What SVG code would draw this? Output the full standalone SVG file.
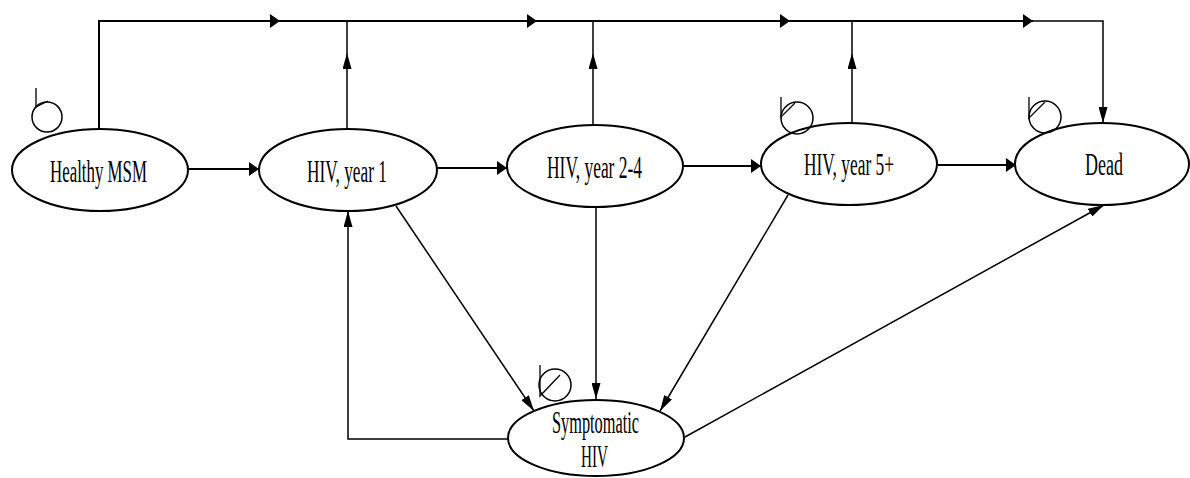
<svg xmlns="http://www.w3.org/2000/svg" width="1190" height="478" viewBox="0 0 1190 478">
<style>
.node ellipse{fill:#fff;stroke:#000;stroke-width:2}
.loop circle{fill:none;stroke:#000;stroke-width:1.5}
.loop path{fill:none;stroke:#000;stroke-width:1.3}
.lbl{font-family:"Liberation Serif","Times New Roman",serif;font-size:32px;fill:#000}
.c{fill:none;stroke:#000;stroke-width:1.5}
.h{fill:none;stroke:#000;stroke-width:2}
</style>
<defs>
<marker id="aw" viewBox="0 0 10 14" refX="10" refY="7" markerWidth="10" markerHeight="14" markerUnits="userSpaceOnUse" orient="auto"><path d="M0,0 L10,7 L0,14 Z" fill="#000"/></marker>
<marker id="an" viewBox="0 0 16 9" refX="16" refY="4.5" markerWidth="16" markerHeight="9" markerUnits="userSpaceOnUse" orient="auto"><path d="M0,0 L16,4.5 L0,9 Z" fill="#000"/></marker>
</defs>
<g id="connectors">
<path class="h" d="M99,129 V21 H280" marker-end="url(#aw)"/>
<path class="h" d="M280,21 H537" marker-end="url(#aw)"/>
<path class="h" d="M537,21 H790" marker-end="url(#aw)"/>
<path class="h" d="M790,21 H1033" marker-end="url(#aw)"/>
<path class="c" d="M1033,21 H1103 V123" marker-end="url(#an)"/>
<path class="c" d="M347,129 V53" marker-end="url(#an)"/>
<path class="c" d="M347,53 V21"/>
<path class="c" d="M593,125 V53" marker-end="url(#an)"/>
<path class="c" d="M593,53 V21"/>
<path class="c" d="M852,123 V53" marker-end="url(#an)"/>
<path class="c" d="M852,53 V21"/>
<path class="h" d="M188,169 H259" marker-end="url(#aw)"/>
<path class="h" d="M437,168 H507" marker-end="url(#aw)"/>
<path class="h" d="M683,166 H761" marker-end="url(#aw)"/>
<path class="h" d="M938,165 H1016" marker-end="url(#aw)"/>
<path class="c" d="M508,439 H348 V211" marker-end="url(#an)"/>
<path class="c" d="M396,206 L534,411" marker-end="url(#an)"/>
<path class="c" d="M596,207 V399" marker-end="url(#an)"/>
<path class="c" d="M788,195 L660,411" marker-end="url(#an)"/>
<path class="c" d="M685,437 L1104,205" marker-end="url(#an)"/>
</g>
<g id="healthy" class="node">
<ellipse cx="100" cy="170" rx="88" ry="41"/>
<text class="lbl" x="50" y="182" textLength="97" lengthAdjust="spacingAndGlyphs">Healthy MSM</text>
<g class="loop"><circle cx="47" cy="117" r="15"/><path d="M36,88 V107 L48,101"/></g>
</g>
<g id="hiv1" class="node">
<ellipse cx="348" cy="170" rx="89" ry="41"/>
<text class="lbl" x="307" y="182" textLength="80" lengthAdjust="spacingAndGlyphs">HIV, year 1</text>
</g>
<g id="hiv24" class="node">
<ellipse cx="595" cy="166" rx="88" ry="41"/>
<text class="lbl" x="547" y="178" textLength="95" lengthAdjust="spacingAndGlyphs">HIV, year 2-4</text>
</g>
<g id="hiv5" class="node">
<ellipse cx="849" cy="164" rx="88" ry="41"/>
<text class="lbl" x="804" y="175" textLength="90" lengthAdjust="spacingAndGlyphs">HIV, year 5+</text>
<g class="loop"><circle cx="797" cy="118" r="16"/><path d="M781,97 V117 L795,103"/></g>
</g>
<g id="dead" class="node">
<ellipse cx="1102" cy="164" rx="87" ry="41"/>
<text class="lbl" x="1085" y="175" textLength="38" lengthAdjust="spacingAndGlyphs">Dead</text>
<g class="loop"><circle cx="1045" cy="117" r="16"/><path d="M1029,97 V118 L1045,102"/></g>
</g>
<g id="symptomatic" class="node">
<ellipse cx="596" cy="438" rx="88" ry="38"/>
<text class="lbl" x="552" y="433" textLength="87" lengthAdjust="spacingAndGlyphs">Symptomatic</text>
<text class="lbl" x="581" y="467" textLength="27" lengthAdjust="spacingAndGlyphs">HIV</text>
<g class="loop"><circle cx="555" cy="385" r="16"/><path d="M540,365 V396 L560,375"/></g>
</g>
</svg>
